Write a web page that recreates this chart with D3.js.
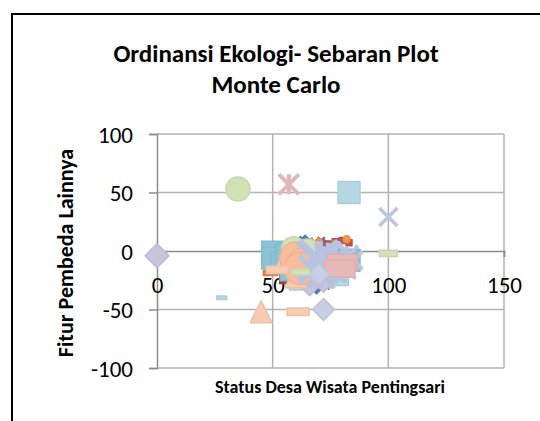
<!DOCTYPE html>
<html>
<head>
<meta charset="utf-8">
<script src="https://cdn.jsdelivr.net/npm/d3@7"></script>
<style>
  body { margin: 0; background: #fff; }
  svg { display: block; font-family: Carlito, Calibri, Lato, sans-serif; }
</style>
</head>
<body>
<div id="chart"></div>
<script>
// axis ticks
const xTicks = [0, 50, 100, 150];
const yTicks = [-100, -50, 0, 50, 100];

// series values [x, y]
const navyDiamond = [[59, 6], [62, 9], [64, 10], [66, 7], [69, 6], [72, 7], [64, -30], [69, -33]];
const redSquare = [[74, 6], [77, 8], [80, 9], [83, 7], [56, -25], [60, -27]];
const greenTriangle = [[58, 7], [67, 8], [76, 6], [66, -28], [71, -27]];
const purpleX = [[61, 8], [71, 9], [79, 5], [68, -31], [73, -30]];
const aquaStar = [[65, 6], [78, 3], [61, -22], [75, -24]];
const orangeCircle = [[70, 8], [82, 10], [57, -20]];
const darkRedSquare = [[55, -24], [59, -25], [63, -25], [66, -23]];
const orangeDash = [[49, -19], [53, -18]];
const skyBlueSquare = [[50, -1], [50, -6], [54, -10], [56, -3], [58, -16], [63, -19], [68, -20], [74, -17], [79, -13], [83, -8]];
const lightGreenCircle = [[35, 53], [59, 2], [65, 0], [66, -20]];
const pinkStar = [[57, 57], [61, -3], [64, -16]];
const paleBlueSquare = [[83, 50], [62, -24], [72, -22], [78, -20]];
const lavenderX = [[100, 29], [83, -3], [85, -8], [82, -16]];
const greyDiamond = [[0, -4], [72, -25], [66, -28]];
const paleBlueDash = [[28, -40], [76, -22], [70, -26]];
const peachTriangle = [[45, -52], [56, -5], [60, -22]];
const peachCircle = [[60, -6], [63, -11], [62, -15]];
const lavenderStarSmall = [[74, -4], [67, -15], [76, -15], [71, -20], [77, -8]];
const lavenderStar = [[70, -9]];
const pinkDash = [[80, -10], [79, -15]];
const peachDash = [[61, -52], [52, -16]];
const lavenderDiamond = [[72, -50], [70, -20]];
const lightGreenDash = [[100, -2], [62, -18]];

// drawing order and look of each series
const seriesList = [
  { data: navyDiamond, color: "#4F81BD", shape: "diamond", size: 8 },
  { data: redSquare, color: "#C0504D", shape: "square", size: 6 },
  { data: greenTriangle, color: "#9BBB59", shape: "triangle", size: 8 },
  { data: purpleX, color: "#8064A2", shape: "x", size: 7 },
  { data: aquaStar, color: "#4BACC6", shape: "star", size: 8 },
  { data: orangeCircle, color: "#F79646", shape: "circle", size: 7 },
  { data: darkRedSquare, color: "#A0413E", shape: "square", size: 9 },
  { data: orangeDash, color: "#E8833A", shape: "dash", size: 14 },
  { data: skyBlueSquare, color: "#8CC3D6", shape: "square", size: 22 },
  { data: lightGreenCircle, color: "#D3E1B8", shape: "circle", size: 24 },
  { data: pinkStar, color: "#E2B7B7", shape: "star", size: 20 },
  { data: paleBlueSquare, color: "#B5D9E4", shape: "square", size: 22 },
  { data: lavenderX, color: "#BCC6E2", shape: "x", size: 18 },
  { data: greyDiamond, color: "#CBC3DB", shape: "diamond", size: 24 },
  { data: paleBlueDash, color: "#B5D9E4", shape: "dash", size: 10 },
  { data: peachTriangle, color: "#F9CBB2", shape: "triangle", size: 22 },
  { data: peachCircle, color: "#F8BE9C", shape: "circle", size: 32 },
  { data: lavenderStarSmall, color: "#B7C3E0", shape: "star", size: 26 },
  { data: lavenderStar, color: "#B7C3E0", shape: "star", size: 40 },
  { data: pinkDash, color: "#E6B9B8", shape: "bar", size: 30 },
  { data: peachDash, color: "#F9CBB2", shape: "dash", size: 22 },
  { data: lavenderDiamond, color: "#C7CFE4", shape: "diamond", size: 22 },
  { data: lightGreenDash, color: "#D3E1B8", shape: "dash", size: 18 }
];

const width = 540, height = 421;
const plot = { left: 157, right: 504, top: 134, bottom: 368 };

const svg = d3.select("#chart").append("svg")
  .attr("width", width)
  .attr("height", height);

// chart area frame
svg.append("rect")
  .attr("x", 12).attr("y", 14)
  .attr("width", 560).attr("height", 440)
  .style("fill", "#fff")
  .style("stroke", "#000")
  .style("stroke-width", 2);

const x = d3.scaleLinear().domain([0, 150]).range([plot.left, plot.right]);
const y = d3.scaleLinear().domain([-100, 100]).range([plot.bottom, plot.top]);

// gridlines
svg.append("g").selectAll("line").data(yTicks.filter(d => d != 0)).join("line")
  .attr("x1", plot.left).attr("x2", plot.right)
  .attr("y1", d => y(d)).attr("y2", d => y(d))
  .style("stroke", "#B3B3B3").style("stroke-width", 1.5);

svg.append("g").selectAll("line").data(xTicks.filter(d => d != 0)).join("line")
  .attr("x1", d => x(d)).attr("x2", d => x(d))
  .attr("y1", plot.top).attr("y2", plot.bottom)
  .style("stroke", "#B3B3B3").style("stroke-width", 1.5);

// y axis
const yAxis = svg.append("g")
  .attr("transform", "translate(" + plot.left + ",0)")
  .call(d3.axisLeft(y).tickValues(yTicks).tickSize(8).tickPadding(16).tickFormat(d => String(d)));

// x axis crosses at y = 0
const xAxis = svg.append("g")
  .attr("transform", "translate(0," + y(0) + ")")
  .call(d3.axisBottom(x).tickValues(xTicks).tickSize(6).tickPadding(22).tickFormat(d => String(d)));

[yAxis, xAxis].forEach(a => {
  a.select(".domain").style("stroke", "#8C8C8C").style("stroke-width", 1.5);
  a.selectAll(".tick line").style("stroke", "#8C8C8C").style("stroke-width", 1.5);
  a.selectAll(".tick text")
    .style("font-family", "Carlito, Calibri, Lato, sans-serif")
    .style("font-size", "23px")
    .style("fill", "#000");
});
yAxis.selectAll(".tick text").attr("dy", "0.36em");
xAxis.selectAll(".tick text").attr("dy", "0.6em");

function markerPath(shape, s) {
  const h = s / 2;
  switch (shape) {
    case "square": return "M" + -h + "," + -h + "h" + s + "v" + s + "h" + -s + "Z";
    case "diamond": return "M0," + -h + "L" + h + ",0L0," + h + "L" + -h + ",0Z";
    case "triangle": return "M0," + -h + "L" + h + "," + h + "L" + -h + "," + h + "Z";
    case "circle": return d3.symbol(d3.symbolCircle, Math.PI * h * h)();
    case "dash": return "M" + -h + "," + (-s * 0.17) + "h" + s + "v" + (s * 0.34) + "h" + -s + "Z";
    case "bar": return "M" + -h + "," + (-s * 0.28) + "h" + s + "v" + (s * 0.56) + "h" + -s + "Z";
    case "x": return "M" + -h + "," + -h + "L" + h + "," + h + "M" + h + "," + -h + "L" + -h + "," + h;
    case "star": return "M" + -h + "," + -h + "L" + h + "," + h + "M" + h + "," + -h + "L" + -h + "," + h +
      "M0," + -h + "V" + h;
  }
}

const marks = svg.append("g");
seriesList.forEach(series => {
  const stroked = series.shape == "x" || series.shape == "star";
  marks.append("g").selectAll("path").data(series.data).join("path")
    .attr("transform", d => "translate(" + x(d[0]) + "," + y(d[1]) + ")")
    .attr("d", markerPath(series.shape, series.size))
    .style("fill", stroked ? "none" : series.color)
    .style("stroke", stroked ? series.color : d3.color(series.color).darker(0.15))
    .style("stroke-width", stroked ? Math.max(2, series.size / 5) : 1.5)
    .style("stroke-linejoin", "round");
});

// titles
const title = svg.append("text")
  .attr("text-anchor", "middle")
  .style("font-weight", "bold")
  .style("font-size", "25px");
title.append("tspan").attr("x", 276).attr("y", 62).text("Ordinansi Ekologi- Sebaran Plot");
title.append("tspan").attr("x", 276).attr("y", 93).text("Monte Carlo");

svg.append("text")
  .attr("transform", "translate(73,253) rotate(-90)")
  .attr("text-anchor", "middle")
  .style("font-weight", "bold")
  .style("font-size", "22px")
  .text("Fitur Pembeda Lainnya");

svg.append("text")
  .attr("x", 330).attr("y", 393)
  .attr("text-anchor", "middle")
  .style("font-weight", "bold")
  .style("font-size", "18px")
  .text("Status Desa Wisata Pentingsari");
</script>
</body>
</html>
